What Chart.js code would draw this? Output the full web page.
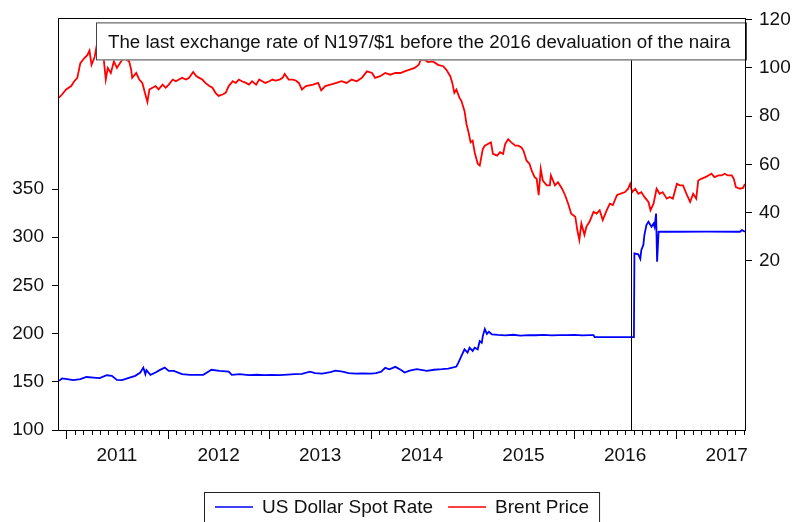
<!DOCTYPE html>
<html><head><meta charset="utf-8">
<script src="https://cdn.jsdelivr.net/npm/chart.js@4.4.1/dist/chart.umd.min.js"></script>
<style>html,body{margin:0;padding:0;background:#fff}canvas{display:block}</style>
</head><body>
<canvas id="c" width="792" height="522"></canvas>
<script>
const FONT = '"Liberation Sans", Arial, sans-serif';
const FS = 19;
const xMin = 2010.93, xMax = 2017.68;
const yearLabels = [2011, 2012, 2013, 2014, 2015, 2016, 2017];
const leftTicks = [100, 150, 200, 250, 300, 350];
const rightTicks = [20, 40, 60, 80, 100, 120];
const devaluationDate = 2016.56;
const annotationText = 'The last exchange rate of N197/$1 before the 2016 devaluation of the naira';
const seriesNames = ['US Dollar Spot Rate', 'Brent Price'];

const usdDates = [2010.93,2010.96,2011.01,2011.07,2011.14,2011.20,2011.27,2011.33,2011.40,2011.45,2011.50,2011.55,2011.61,2011.68,2011.73,2011.76,2011.78,2011.79,2011.83,2011.88,2011.92,2011.97,2012.01,2012.06,2012.14,2012.22,2012.35,2012.43,2012.51,2012.60,2012.63,2012.71,2012.75,2012.80,2012.88,2012.95,2013.02,2013.10,2013.18,2013.25,2013.32,2013.40,2013.45,2013.52,2013.60,2013.65,2013.72,2013.78,2013.85,2013.92,2014.00,2014.05,2014.10,2014.14,2014.18,2014.24,2014.30,2014.33,2014.38,2014.45,2014.55,2014.62,2014.70,2014.76,2014.83,2014.84,2014.86,2014.89,2014.92,2014.95,2014.97,2015.00,2015.02,2015.05,2015.07,2015.09,2015.10,2015.12,2015.14,2015.16,2015.19,2015.25,2015.32,2015.40,2015.47,2015.55,2015.62,2015.70,2015.78,2015.85,2015.92,2016.00,2016.08,2016.15,2016.19,2016.20,2016.40,2016.587,2016.592,2016.63,2016.65,2016.66,2016.68,2016.69,2016.71,2016.73,2016.76,2016.78,2016.79,2016.805,2016.815,2016.83,2017.00,2017.30,2017.60,2017.63,2017.65,2017.68];
const usdValues = [151.0,153.5,152.8,151.7,152.8,155.0,154.4,153.8,156.8,156.2,152.0,151.7,153.8,156.2,159.6,164.7,157.9,162.1,157.2,159.6,162.1,164.7,161.3,161.3,157.9,157.2,157.2,162.5,161.3,160.6,157.2,157.9,157.5,157.0,157.3,157.0,157.2,157.0,157.5,158.0,158.3,160.5,159.0,158.5,160.0,161.5,160.5,159.0,158.5,158.7,158.5,159.0,160.5,164.5,163.0,165.5,162.0,159.6,161.5,163.1,161.3,162.5,163.1,163.7,165.5,165.8,169.9,176.8,183.7,180.2,185.4,182.0,185.4,183.7,192.3,190.5,197.4,204.9,199.8,201.9,199.2,198.6,198.2,198.8,198.0,198.5,198.3,198.7,198.1,198.5,198.4,198.6,198.2,198.5,198.5,196.4,196.4,196.4,283.3,282.3,277.5,286.8,292.0,302.3,312.6,316.0,310.8,314.2,310.8,324.5,274.7,305.7,305.7,305.9,305.7,305.7,307.4,305.7];

const brentDates = [2010.93,2010.96,2011.00,2011.05,2011.08,2011.11,2011.14,2011.18,2011.21,2011.23,2011.25,2011.28,2011.30,2011.33,2011.36,2011.39,2011.41,2011.44,2011.47,2011.50,2011.54,2011.57,2011.62,2011.64,2011.65,2011.69,2011.72,2011.75,2011.78,2011.80,2011.82,2011.85,2011.88,2011.91,2011.95,2011.98,2012.01,2012.05,2012.08,2012.11,2012.14,2012.18,2012.21,2012.25,2012.28,2012.31,2012.34,2012.37,2012.41,2012.44,2012.47,2012.50,2012.54,2012.57,2012.60,2012.64,2012.67,2012.70,2012.73,2012.77,2012.80,2012.83,2012.87,2012.90,2012.93,2012.96,2013.00,2013.03,2013.06,2013.10,2013.13,2013.15,2013.19,2013.23,2013.26,2013.29,2013.32,2013.36,2013.43,2013.48,2013.51,2013.55,2013.60,2013.66,2013.71,2013.76,2013.81,2013.86,2013.91,2013.96,2014.01,2014.04,2014.09,2014.14,2014.19,2014.24,2014.29,2014.33,2014.38,2014.43,2014.47,2014.49,2014.53,2014.56,2014.61,2014.66,2014.71,2014.74,2014.78,2014.80,2014.82,2014.84,2014.87,2014.89,2014.91,2014.92,2014.94,2014.96,2014.98,2015.00,2015.02,2015.05,2015.07,2015.10,2015.12,2015.15,2015.18,2015.20,2015.24,2015.27,2015.30,2015.32,2015.35,2015.38,2015.42,2015.45,2015.48,2015.50,2015.53,2015.56,2015.58,2015.61,2015.63,2015.65,2015.67,2015.69,2015.73,2015.76,2015.77,2015.81,2015.84,2015.88,2015.91,2015.94,2015.97,2016.01,2016.03,2016.05,2016.07,2016.10,2016.12,2016.15,2016.19,2016.22,2016.25,2016.28,2016.32,2016.35,2016.38,2016.42,2016.45,2016.50,2016.53,2016.55,2016.57,2016.60,2016.63,2016.66,2016.69,2016.73,2016.75,2016.78,2016.81,2016.84,2016.87,2016.91,2016.94,2016.97,2017.01,2017.04,2017.07,2017.11,2017.14,2017.17,2017.20,2017.22,2017.25,2017.29,2017.32,2017.35,2017.38,2017.42,2017.45,2017.48,2017.51,2017.55,2017.57,2017.59,2017.63,2017.66,2017.68];
const brentValues = [87.6,88.9,91.0,92.4,94.4,95.8,101.9,104.0,105.3,107.1,101.2,104.3,109.0,113.0,108.0,95.1,99.9,97.8,102.6,99.9,102.6,104.0,102.6,99.2,95.8,97.8,95.1,93.7,88.9,85.8,91.0,91.7,92.4,91.0,93.0,91.7,93.0,95.1,94.4,95.1,95.8,95.1,95.8,98.2,96.5,95.8,95.1,93.7,92.4,91.7,89.6,88.3,88.9,89.6,92.4,94.4,93.7,95.1,94.4,93.7,93.0,94.4,93.0,95.1,94.4,93.7,94.4,95.1,94.7,95.1,95.8,97.4,95.1,95.1,94.7,93.7,91.0,92.4,93.0,93.7,90.6,92.4,93.0,93.7,94.4,93.7,95.1,94.4,95.8,98.5,97.8,95.8,96.5,97.8,97.1,97.8,97.8,98.5,99.2,99.9,101.2,103.3,103.3,102.3,102.6,101.2,100.6,99.2,96.5,93.7,89.6,91.0,87.6,86.2,83.4,82.1,76.6,73.2,69.1,69.8,65.0,60.2,59.5,66.3,67.7,68.4,69.1,64.3,63.6,65.0,64.3,68.4,70.4,69.1,67.7,67.7,67.0,65.7,61.6,60.2,57.5,54.7,54.0,47.2,58.1,53.3,51.3,51.3,55.4,51.3,52.6,49.9,47.2,43.7,39.6,38.3,32.8,28.7,35.5,30.8,34.2,36.2,40.3,39.6,41.0,36.9,41.0,43.7,43.1,47.2,47.8,48.5,49.9,51.9,48.5,49.9,47.8,48.5,46.5,44.4,41.0,43.7,49.9,47.8,48.5,45.8,46.5,45.8,51.9,51.3,51.3,47.2,44.4,47.8,45.8,53.3,54.0,54.7,55.4,56.1,54.7,55.4,55.4,56.1,55.4,55.4,54.0,50.6,49.9,50.2,51.9];

const usdData = usdDates.map((d, i) => ({ x: d, y: usdValues[i] }));
const brentData = brentDates.map((d, i) => ({ x: d, y: brentValues[i] }));

const decor = {
  id: 'decor',
  afterDatasetsDraw(chart) {
    const { ctx, chartArea: a, scales } = chart;
    ctx.save();
    ctx.strokeStyle = '#000';
    ctx.lineWidth = 1;
    ctx.beginPath();
    for (let y = 2010; y <= 2017; y++) {
      for (let m = 0; m < 12; m++) {
        const v = y + m / 12;
        if (v < xMin || v > xMax) continue;
        const px = Math.round(scales.x.getPixelForValue(v)) + 0.5;
        const len = m === 0 ? 9 : 5;
        ctx.moveTo(px, a.bottom);
        ctx.lineTo(px, a.bottom + len);
      }
    }
    ctx.stroke();
    const bl = a.left + 37, bt = a.top + 3, br = a.right + 2, bb = a.top + 41;
    ctx.fillStyle = '#fff';
    ctx.fillRect(bl, bt, br - bl, bb - bt);
    ctx.strokeStyle = '#444';
    ctx.strokeRect(bl + 0.5, bt + 0.5, br - bl - 1, bb - bt - 1);
    ctx.fillStyle = '#111';
    ctx.font = '18.7px ' + FONT;
    ctx.textBaseline = 'middle';
    ctx.textAlign = 'left';
    ctx.fillText(annotationText, bl + 12, (bt + bb) / 2 + 1);
    const vx = Math.round(scales.x.getPixelForValue(devaluationDate)) + 0.5;
    ctx.strokeStyle = '#000';
    ctx.beginPath();
    ctx.moveTo(vx, bb);
    ctx.lineTo(vx, a.bottom);
    ctx.stroke();
    ctx.strokeRect(Math.round(a.left) - 0.5, Math.round(a.top) - 0.5, Math.round(a.right - a.left) + 1, Math.round(a.bottom - a.top) + 1);
    ctx.restore();
  },
  afterDraw(chart) {
    const { ctx, chartArea: a } = chart;
    ctx.save();
    ctx.font = FS + 'px ' + FONT;
    const left = a.left + 145, top = a.bottom + 62;
    let x = left + 11;
    const cy = top + 15;
    const parts = chart.data.datasets.map(ds => ({ color: ds.borderColor, label: ds.label, w: ctx.measureText(ds.label).width }));
    let total = 11;
    parts.forEach((p, i) => { total += 38 + 9 + p.w + (i < parts.length - 1 ? 15 : 11); });
    ctx.fillStyle = '#fff';
    ctx.fillRect(left, top, total, 40);
    ctx.strokeStyle = '#222';
    ctx.lineWidth = 1;
    ctx.strokeRect(left + 0.5, top + 0.5, total - 1, 40);
    parts.forEach(p => {
      ctx.strokeStyle = p.color;
      ctx.lineWidth = 1.6;
      ctx.beginPath();
      ctx.moveTo(x, cy);
      ctx.lineTo(x + 38, cy);
      ctx.stroke();
      x += 38 + 9;
      ctx.fillStyle = '#111';
      ctx.textBaseline = 'middle';
      ctx.fillText(p.label, x, cy + 1);
      x += p.w + 15;
    });
    ctx.restore();
  }
};

new Chart(document.getElementById('c'), {
  type: 'line',
  data: {
    datasets: [
      { label: seriesNames[0], data: usdData, yAxisID: 'y', borderColor: '#0000ff', backgroundColor: '#0000ff', borderWidth: 1.8, pointRadius: 0, tension: 0 },
      { label: seriesNames[1], data: brentData, yAxisID: 'y1', borderColor: '#ff0000', backgroundColor: '#ff0000', borderWidth: 1.8, pointRadius: 0, tension: 0 }
    ]
  },
  options: {
    responsive: false,
    animation: false,
    layout: { padding: { top: 16, left: 0, right: 0, bottom: 0 } },
    plugins: { legend: { display: false }, tooltip: { enabled: false } },
    scales: {
      x: {
        type: 'linear', min: xMin, max: xMax,
        afterBuildTicks: s => { s.ticks = yearLabels.map(y => ({ value: y + 0.5 })); },
        afterFit: s => { s.height = 92; },
        grid: { display: false, drawTicks: false },
        border: { display: false },
        ticks: { autoSkip: false, maxRotation: 0, padding: 14, color: '#111', font: { family: FONT, size: FS }, callback: v => String(Math.floor(v)) }
      },
      y: {
        position: 'left', min: 100, max: 526,
        afterBuildTicks: s => { s.ticks = leftTicks.map(v => ({ value: v })); },
        afterFit: s => { s.width = 59; },
        grid: { drawOnChartArea: false, drawTicks: true, tickLength: 7, color: '#000' },
        border: { display: false },
        ticks: { padding: 8, color: '#111', font: { family: FONT, size: FS } }
      },
      y1: {
        position: 'right', min: -50, max: 120,
        afterBuildTicks: s => { s.ticks = rightTicks.map(v => ({ value: v })); },
        afterFit: s => { s.width = 47; },
        grid: { drawOnChartArea: false, drawTicks: true, tickLength: 7, color: '#000' },
        border: { display: false },
        ticks: { padding: 7, color: '#111', font: { family: FONT, size: FS } }
      }
    }
  },
  plugins: [decor]
});
</script>
</body></html>
